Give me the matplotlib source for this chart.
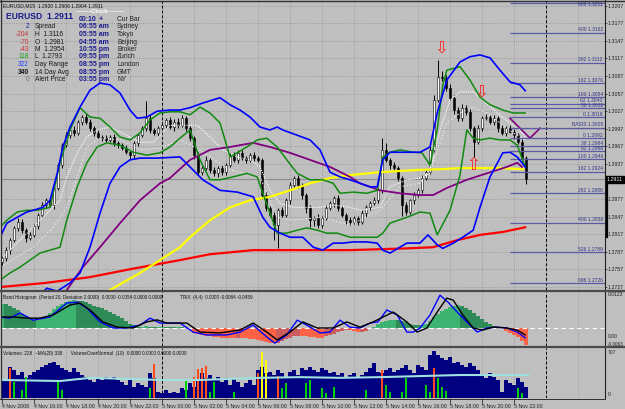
#!/usr/bin/env python3
"""EURUSD M15 MetaTrader-style screen (4-5 Nov 2008) redrawn with matplotlib."""

import numpy as np
import matplotlib
matplotlib.use("Agg")
import matplotlib.pyplot as plt
from matplotlib.lines import Line2D

W, H = 625, 409
BG = "#bfbfbf"
FONT = "Liberation Sans"
PIP = 0.0001
XLIM = (-0.25, 150.75)

# ---------------- price bars (15 min, from 4 Nov 14:00) ----------------
first_open = 1.2770
closes = [
    1.2776, 1.2790, 1.2807, 1.2828, 1.2838, 1.2824, 1.2810, 1.2816, 1.2831, 1.2850,
    1.2867, 1.2875, 1.2867, 1.2896, 1.2935, 1.2969, 1.2986, 1.2995, 1.2990, 1.3009,
    1.3017, 1.3009, 1.2998, 1.2990, 1.2983, 1.2981, 1.2978, 1.2983, 1.2973, 1.2969,
    1.2964, 1.2957, 1.2952, 1.2973, 1.2986, 1.2998, 1.3015, 1.2995, 1.2990, 1.2998,
    1.3003, 1.3012, 1.3000, 1.3009, 1.3003, 1.3015, 1.2998, 1.2981, 1.2952, 1.2923,
    1.2930, 1.2944, 1.2927, 1.2921, 1.2930, 1.2923, 1.2935, 1.2952, 1.2944, 1.2956,
    1.2947, 1.2944, 1.2952, 1.2947, 1.2944, 1.2884, 1.2862, 1.2850, 1.2833, 1.2858,
    1.2850, 1.2875, 1.2901, 1.2913, 1.2901, 1.2884, 1.2862, 1.2841, 1.2845, 1.2833,
    1.2845, 1.2862, 1.2870, 1.2879, 1.2862, 1.2850, 1.2841, 1.2838, 1.2845, 1.2838,
    1.2853, 1.2863, 1.2870, 1.2875, 1.2892, 1.2961, 1.2944, 1.2935, 1.2930, 1.2913,
    1.2867, 1.2855, 1.2875, 1.2884, 1.2892, 1.2913, 1.2923, 1.2961, 1.3046, 1.3085,
    1.3084, 1.3067, 1.3050, 1.3029, 1.3015, 1.3033, 1.3026, 1.2998, 1.2975, 1.2998,
    1.3015, 1.3017, 1.3009, 1.3015, 1.2998, 1.2990, 1.2998, 1.2992, 1.2986, 1.2975,
    1.2947, 1.2911,
]
wick_up = [
    4, 5, 3, 4, 6, 5, 4, 5, 3, 4,   5, 4, 6, 3, 4, 3, 5, 4, 6, 3,
    4, 5, 4, 3, 5, 4, 6, 4, 5, 4,   3, 5, 4, 3, 4, 4, 30, 5, 4, 3,
    6, 4, 5, 4, 6, 5, 4, 3, 4, 5,   4, 6, 3, 5, 4, 5, 3, 4, 6, 4,
    5, 4, 3, 5, 4, 3, 5, 4, 6, 4,   5, 4, 6, 4, 5, 3, 4, 5, 4, 6,
    4, 5, 4, 3, 5, 4, 4, 5, 3, 4,   5, 4, 3, 6, 4, 20, 12, 4, 5, 3,
    4, 5, 3, 6, 4, 5, 3, 6, 8, 29,  10, 5, 6, 4, 5, 6, 4, 5, 4, 6,
    4, 5, 4, 6, 3, 5, 4, 6, 4, 3,   4, 3,
]
wick_dn = [
    5, 4, 6, 3, 5, 4, 6, 3, 4, 5,   4, 5, 3, 6, 4, 5, 3, 4, 5, 4,
    5, 3, 4, 6, 4, 5, 3, 4, 6, 5,   4, 3, 6, 4, 5, 3, 4, 6, 4, 5,
    3, 5, 4, 6, 4, 3, 5, 4, 6, 5,   4, 3, 5, 4, 6, 4, 5, 3, 4, 5,
    4, 6, 3, 5, 4, 6, 5, 4, 25, 40, 5, 4, 6, 3, 5, 6, 8, 12, 10, 6,
    5, 4, 3, 6, 5, 4, 6, 5, 4, 5,   4, 6, 5, 3, 4, 5, 4, 6, 3, 5,
    18, 5, 4, 6, 3, 5, 4, 3, 5, 4,  6, 5, 4, 6, 5, 4, 6, 5, 26, 4,
    5, 3, 4, 5, 6, 4, 5, 3, 6, 4,   5, 8,
]

# ---------------- overlay lines on the price chart (bar index, price) ----------------
blue_up_x = [-0.5, 1.2, 3.8, 6.2, 7.8, 10.2, 12, 13.8, 15.2, 17, 19.5, 22, 24.5, 27, 29.5, 32,
             33.8, 36.2, 38.8, 42, 44.5, 47, 50.2, 54.5, 57, 59.5, 62, 64.5, 67, 68.8, 70.2,
             73.8, 77, 79.5, 82, 84.5, 87, 89.5, 92, 93.8, 95.2, 97, 101.2, 104.5, 107, 108.8,
             111.2, 114.5, 117, 119.5, 122, 124.5, 127, 129.5, 130.8]
blue_up = [1.2812, 1.2836, 1.2846, 1.2855, 1.2858, 1.2863, 1.2875, 1.2921, 1.2966, 1.3000,
           1.3034, 1.3063, 1.3075, 1.3072, 1.3058, 1.3029, 1.3015, 1.3017, 1.3027, 1.3029,
           1.3029, 1.3033, 1.3041, 1.3050, 1.3038, 1.3029, 1.3017, 1.3000, 1.2995, 1.3000,
           1.2995, 1.2986, 1.2978, 1.2961, 1.2923, 1.2915, 1.2910, 1.2904, 1.2898, 1.2898,
           1.2944, 1.2957, 1.2957, 1.2957, 1.2966, 1.3024, 1.3080, 1.3111, 1.3120, 1.3123,
           1.3118, 1.3097, 1.3077, 1.3072, 1.3062]
blue_dn_x = [-0.5, 8.2, 11.2, 13.8, 17, 19.5, 22, 24.5, 27, 29.5, 32, 34.5, 38.8, 44.5, 47,
             50.2, 54.5, 58.8, 62.8, 65.2, 67, 69.5, 72, 75.2, 77.8, 80.2, 82.8, 85.2, 87.8,
             91.2, 93.8, 95.2, 97, 101.2, 104.5, 106.5, 108.8, 110.2, 112.8, 115.2, 117.8,
             119.5, 122, 125.2, 127, 128.8, 130.8]
blue_dn = [1.2690, 1.2705, 1.2725, 1.2720, 1.2734, 1.2751, 1.2795, 1.2853, 1.2904, 1.2932,
           1.2944, 1.2947, 1.2947, 1.2949, 1.2932, 1.2910, 1.2892, 1.2889, 1.2881, 1.2846,
           1.2829, 1.2819, 1.2812, 1.2812, 1.2795, 1.2790, 1.2802, 1.2802, 1.2804, 1.2804,
           1.2802, 1.2790, 1.2785, 1.2802, 1.2802, 1.2816, 1.2799, 1.2793, 1.2802, 1.2812,
           1.2824, 1.2863, 1.2915, 1.2956, 1.2957, 1.2949, 1.2932]
green_up_x = [-0.5, 1.2, 3.8, 6.2, 8.8, 12, 14.5, 17, 19.5, 22, 24.5, 27, 29.5, 32, 34.5, 37,
              39.5, 42, 44.5, 47, 49.5, 52, 54.5, 57, 58.8, 61.2, 63.8, 66.2, 68.8, 71.2, 73.8,
              77, 80.2, 82.8, 84.5, 87.8, 91.2, 93.8, 95.2, 97, 99.5, 102.8, 105, 107, 108.8,
              110.2, 111.2, 114.5, 117, 119.5, 122, 125.2, 127.8, 130.8]
green_up = [1.2829, 1.2841, 1.2855, 1.2858, 1.2858, 1.2863, 1.2939, 1.2995, 1.3033, 1.3017,
            1.3015, 1.3000, 1.2983, 1.2978, 1.2990, 1.3012, 1.3024, 1.3026, 1.3026, 1.3021,
            1.3034, 1.3024, 1.3007, 1.2949, 1.2956, 1.2966, 1.2978, 1.2981, 1.2966, 1.2944,
            1.2921, 1.2910, 1.2910, 1.2904, 1.2887, 1.2889, 1.2887, 1.2892, 1.2949, 1.2957,
            1.2961, 1.2957, 1.2956, 1.2935, 1.2995, 1.3072, 1.3097, 1.3103, 1.3080, 1.3051,
            1.3038, 1.3029, 1.3024, 1.3024]
green_dn_x = [-0.5, 2, 4.5, 7, 9.5, 12, 14.5, 16.2, 18.8, 21.2, 23.8, 26.2, 29.5, 32.8, 36.2,
              39.5, 42, 44.5, 47, 49.5, 52, 54.5, 57.8, 61.2, 63.8, 65.2, 67, 68.8, 71.2, 73.8,
              76.2, 78.8, 81.2, 83.8, 87, 91.2, 93.8, 95.2, 97, 101.2, 104.5, 107, 108.8, 112,
              114.5, 116.2, 117.8, 119.5, 122, 124.5, 127, 128.8, 130.8]
green_dn = [1.2739, 1.2751, 1.2761, 1.2773, 1.2785, 1.2790, 1.2795, 1.2841, 1.2898, 1.2939,
            1.2966, 1.2973, 1.2969, 1.2957, 1.2952, 1.2956, 1.2966, 1.2981, 1.2995, 1.2944,
            1.2910, 1.2910, 1.2915, 1.2921, 1.2915, 1.2887, 1.2853, 1.2819, 1.2819, 1.2824,
            1.2828, 1.2824, 1.2819, 1.2819, 1.2812, 1.2812, 1.2812, 1.2819, 1.2836, 1.2846,
            1.2855, 1.2853, 1.2816, 1.2858, 1.2918, 1.2995, 1.2981, 1.2978, 1.2981, 1.2978,
            1.2978, 1.2969, 1.2932]
white_mid_x = [-0.5, 4.5, 9.5, 14.5, 16.2, 18.8, 21.2, 23.8, 27, 31.2, 34.5, 37.8, 42, 48.8,
               52, 55.2, 58.8, 62, 64.5, 67, 69.5, 72.8, 76.2, 79.5, 82.8, 87, 89.5, 94.5, 97,
               101.2, 104.5, 107, 109.5, 112, 114.5, 117.8, 120.2, 123.8, 127, 129.5, 130.8]
white_mid = [1.2773, 1.2807, 1.2841, 1.2875, 1.2915, 1.2956, 1.2983, 1.2995, 1.3000, 1.2986,
             1.2974, 1.2974, 1.3003, 1.3003, 1.2983, 1.2961, 1.2949, 1.2944, 1.2932, 1.2892,
             1.2870, 1.2863, 1.2863, 1.2863, 1.2867, 1.2863, 1.2858, 1.2863, 1.2898, 1.2910,
             1.2913, 1.2921, 1.2995, 1.3046, 1.3060, 1.3060, 1.3046, 1.3024, 1.3007, 1.2995,
             1.2983]
white_slow_x = [-0.5, 7.8, 12.8, 16.2, 18.8, 21.2, 24.5, 29.5, 34.5, 39.5, 44.5, 49.5, 57,
                64.5, 68.8, 72.8, 79.5, 87, 89.5, 94.5, 99.5, 104.5, 107.8, 111.2, 114.5, 117.8,
                121.2, 124.5, 127.8, 130.8]
white_slow = [1.2761, 1.2795, 1.2829, 1.2863, 1.2915, 1.2966, 1.2981, 1.2978, 1.2961, 1.2964,
              1.2978, 1.2961, 1.2927, 1.2915, 1.2846, 1.2841, 1.2846, 1.2833, 1.2841, 1.2858,
              1.2898, 1.2904, 1.2939, 1.3007, 1.3024, 1.3034, 1.3024, 1.3007, 1.2990, 1.2978]
purple_x = [14.5, 16.2, 20.2, 24.5, 29.5, 34.5, 39.5, 42, 47, 52, 57, 62.8, 67, 72, 77, 82, 87,
            89.5, 94.5, 99.5, 104.5, 107.8, 111.2, 116.2, 121.2, 126.2, 128.8, 130]
purple = [1.2705, 1.2722, 1.2761, 1.2795, 1.2836, 1.2875, 1.2904, 1.2913, 1.2944, 1.2961,
          1.2966, 1.2973, 1.2966, 1.2956, 1.2944, 1.2932, 1.2915, 1.2904, 1.2892, 1.2887,
          1.2884, 1.2884, 1.2896, 1.2910, 1.2921, 1.2932, 1.2939, 1.2932]
purple_v_x = [127, 132, 134.5]
purple_v = [1.3015, 1.2981, 1.2998]
yellow_x = [23.2, 27, 34.5, 39.5, 44.5, 47, 52, 57, 62, 67, 72, 77, 82, 87, 94.5, 99.5, 104.5,
            109.5, 114.5, 124.5, 130.2]
yellow = [1.2705, 1.2722, 1.2751, 1.2773, 1.2795, 1.2812, 1.2841, 1.2863, 1.2875, 1.2881,
          1.2892, 1.2904, 1.2913, 1.2918, 1.2923, 1.2925, 1.2927, 1.2928, 1.2930, 1.2930,
          1.2928]
red_x = [-0.5, 10.8, 22, 33.2, 44.5, 52, 62.8, 87, 101.2, 107.8, 113.8, 119.5, 125.2, 130.8]
red = [1.2727, 1.2734, 1.2744, 1.2759, 1.2773, 1.2783, 1.2790, 1.2790, 1.2793, 1.2795, 1.2807,
       1.2816, 1.2821, 1.2829]

fib_labels = ["600 1.3211", "400 1.3162", "262 1.3112", "162 1.3076", "100 1.3054",
              "62 1.3040", "50 1.3032", "0 1.3018", "BASIS 1.3005", "0 1.2992", "38 1.2984",
              "62 1.2968", "100 1.2946", "162 1.2924", "262 1.2888", "400 1.2838",
              "526 1.2789", "696 1.2726"]
fib_levels = [1.3212, 1.3161, 1.3110, 1.3075, 1.3051, 1.3040, 1.3033, 1.3017, 1.2999, 1.2981,
              1.2968, 1.2959, 1.2946, 1.2924, 1.2888, 1.2837, 1.2787, 1.2734]
price_ticks = [1.2727, 1.2757, 1.2787, 1.2817, 1.2847, 1.2877, 1.2937, 1.2967, 1.2997, 1.3027,
               1.3057, 1.3087, 1.3117, 1.3147, 1.3177, 1.3207]
last_price = 1.2911
arrows_down = [(109.8, 1.3135), (119.8, 1.3060)]
arrows_up = [(117.8, 1.2935)]

# ---------------- band histogram / TRIX ----------------
hist = [
    0.0082, 0.0080, 0.0076, 0.0068, 0.0060, 0.0048, 0.0042, 0.0034, 0.0028, 0.0028,
    0.0034, 0.0042, 0.0052, 0.0064, 0.0074, 0.0082, 0.0088, 0.0092, 0.0094, 0.0093,
    0.0091, 0.0088, 0.0082, 0.0076, 0.0072, 0.0068, 0.0062, 0.0055, 0.0048, 0.0040,
    0.0032, 0.0022, 0.0014, 0.0008, 0.0003, 0.0004, 0.0005, 0.0003, 0.0002, 0.0003,
    0.0004, 0.0003, 0.0002, 0.0001, 0.0002, 0.0001, 0.0000, -0.0002, -0.0018, -0.0022,
    -0.0026, -0.0028, -0.0030, -0.0031, -0.0032, -0.0034, -0.0035, -0.0036, -0.0036, -0.0035,
    -0.0036, -0.0037, -0.0038, -0.0040, -0.0043, -0.0046, -0.0050, -0.0053, -0.0054, -0.0052,
    -0.0046, -0.0040, -0.0034, -0.0030, -0.0028, -0.0028, -0.0030, -0.0031, -0.0032, -0.0034,
    -0.0034, -0.0030, -0.0025, -0.0020, -0.0015, -0.0010, -0.0008, -0.0009, -0.0012, -0.0015,
    -0.0014, -0.0010, -0.0005, 0.0002, 0.0012, 0.0018, 0.0022, 0.0025, 0.0027, 0.0026,
    0.0024, 0.0020, 0.0014, 0.0010, 0.0009, 0.0010, 0.0014, 0.0024, 0.0036, 0.0048,
    0.0058, 0.0066, 0.0072, 0.0076, 0.0077, 0.0074, 0.0068, 0.0060, 0.0050, 0.0040,
    0.0030, 0.0020, 0.0012, 0.0006, 0.0002, -0.0002, -0.0012, -0.0018, -0.0024, -0.0032,
    -0.0045, -0.0058,
]
trix_x = [-0.5, 2, 4.5, 7.8, 12, 16.2, 18.8, 21.2, 24.5, 27.8, 31.2, 34.5, 37, 39.5, 44.5, 47.8,
          51.2, 56.2, 59.5, 62.8, 66.2, 68.2, 71.2, 73.8, 76.2, 79.5, 82, 84.5, 87, 89.5, 92,
          94, 96.2, 98.8, 101.2, 102.8, 104.5, 107, 109.5, 111.5, 113.8, 116.2, 118.8, 121.2,
          123.8, 126.2, 128.8, 130.8]
trix = [0.0037, 0.0033, 0.0051, 0.0026, 0.0037, 0.0085, 0.0088, 0.0068, 0.0020, -0.0001,
        -0.0001, 0.0009, 0.0033, 0.0016, 0.0016, -0.0015, -0.0025, -0.0025, -0.0015, 0.0009,
        -0.0032, -0.0053, -0.0025, 0.0026, 0.0009, -0.0018, -0.0015, 0.0026, 0.0002, -0.0001,
        0.0016, 0.0020, 0.0061, 0.0044, -0.0015, -0.0015, -0.0001, 0.0044, 0.0112, 0.0088,
        0.0054, 0.0020, -0.0015, -0.0001, 0.0002, -0.0001, -0.0015, -0.0035]
signal_x = [-0.5, 2.8, 6.2, 9.5, 12.8, 17, 19.5, 22, 25.2, 28.8, 32.8, 36.2, 38.8, 41.2, 46.2,
            49.5, 54.5, 59.5, 62.8, 66.2, 68.8, 72, 75.2, 78.8, 82.8, 86.2, 89.5, 92.8, 97.8,
            101.2, 103.8, 106.2, 108.8, 111.2, 112.8, 115.2, 117.8, 120.2, 122.8, 126.2, 128.8,
            130.8]
signal = [0.0037, 0.0037, 0.0033, 0.0033, 0.0044, 0.0078, 0.0085, 0.0061, 0.0020, 0.0002,
          -0.0001, 0.0020, 0.0027, 0.0016, 0.0016, -0.0015, -0.0018, -0.0008, 0.0016, -0.0015,
          -0.0042, -0.0015, 0.0020, -0.0001, -0.0001, 0.0020, 0.0002, 0.0020, 0.0054, 0.0020,
          -0.0015, -0.0001, 0.0054, 0.0102, 0.0095, 0.0044, -0.0001, -0.0008, 0.0002, -0.0001,
          -0.0008, -0.0025]

# ---------------- volumes ----------------
volumes = [
    255, 250, 440, 395, 325, 370, 285, 325, 370, 395,
    440, 465, 495, 510, 465, 425, 395, 370, 425, 370,
    325, 295, 255, 225, 285, 255, 295, 285, 295, 255,
    225, 185, 255, 155, 210, 185, 155, 355, 285, 85,
    70, 115, 70, 85, 70, 140, 115, 210, 155, 255,
    355, 285, 325, 255, 295, 225, 255, 185, 285, 225,
    155, 210, 255, 185, 395, 440, 355, 370, 325, 395,
    355, 295, 370, 395, 325, 425, 395, 440, 395, 370,
    425, 395, 355, 370, 325, 355, 295, 325, 355, 295,
    325, 370, 425, 495, 370, 355, 395, 425, 370, 395,
    425, 465, 395, 355, 465, 440, 395, 610, 665, 610,
    565, 540, 580, 495, 510, 465, 440, 495, 450, 395,
    325, 285, 355, 295, 255, 85, 255, 210, 185, 285,
    225, 155,
]
over_idx = [2, 3, 5, 6, 14, 15, 37, 38, 46, 48, 49, 50, 51, 52, 53, 58, 64, 65, 66, 69,
            70, 71, 76, 77, 80, 81, 83, 91, 95, 96, 97, 100, 101, 106, 107, 108, 109, 110, 111,
            129, 130]
over_val = [425, 225, 115, 295, 225, 115, 140, 480, 255, 295, 410, 425, 455, 85, 225, 85, 355,
            650, 535, 310, 140, 210, 210, 255, 140, 70, 155, 115, 395, 185, 85, 85, 285, 185,
            85, 425, 285, 155, 100, 140, 70]
over_kind = ["r", "g", "g", "g", "g", "g", "g", "r", "g", "r", "r", "r", "r", "g", "g", "g",
             "r", "y", "y", "r", "g", "g", "g", "g", "g", "g", "g", "g", "r", "g", "g", "g",
             "g", "g", "g", "r", "g", "g", "g", "g", "g"]
vol_ma_x = [-0.25, 14.5, 22, 32, 39.5, 49.5, 64.5, 74.5, 84.5, 94.5, 104.5, 114.5, 119.5, 131.5]
vol_ma = [255, 240, 285, 270, 255, 255, 285, 295, 285, 295, 310, 325, 325, 325]

time_labels = ["4 Nov 2008", "4 Nov 16:00", "4 Nov 18:00", "4 Nov 20:00", "4 Nov 22:00",
               "5 Nov 00:00", "5 Nov 02:00", "5 Nov 04:00", "5 Nov 06:00", "5 Nov 08:00",
               "5 Nov 10:00", "5 Nov 12:00", "5 Nov 14:00", "5 Nov 16:00", "5 Nov 18:00",
               "5 Nov 20:00", "5 Nov 22:00"]
day_breaks = [40, 136]

# ---------------- info block ----------------
info_nums = ["2", "-204", "-70", "-43", "118", "322", "340", "0"]
info_num_colors = ["#1a1a99", "#cc3333", "#cc3333", "#cc3333", "#1f9f1f", "#2244ff",
                   "#111111", "#707070"]
info_labels = ["Spread", "H  1.3116", "O  1.2981", "M  1.2954", "L  1.2793", "Day Range",
               "14 Day Avg", "Alert Price"]
clock_times = ["00:10", "06:55 am", "05:55 am", "04:55 am", "10:55 pm", "09:55 pm",
               "08:55 pm", "08:55 pm", "03:55 pm"]
clock_cities = ["Cur Bar", "Sydney", "Tokyo", "Beijing", "Broker", "Zurich", "London",
                "GMT", "NY"]


def fx(x):
    return x / W


def fy(y):
    return 1 - y / H


def panel(fig, top, bottom):
    ax = fig.add_axes([fx(1), fy(bottom), (605 - 1) / W, (bottom - top) / H])
    ax.set_facecolor(BG)
    ax.set_xlim(XLIM)
    for s in ax.spines.values():
        s.set_visible(False)
    ax.tick_params(left=False, labelleft=False, bottom=False, labelbottom=False)
    for g in range(0, 151, 8):
        ax.axvline(g, color="#939393", lw=0.6, ls=(0, (1, 1.5)), zorder=0)
    for d in day_breaks:
        ax.axvline(d, color="black", lw=0.7, ls=(0, (3, 2)), zorder=1)
    return ax


def ftext(fig, x, y, s, **kw):
    kw.setdefault("family", FONT)
    kw.setdefault("va", "center")
    fig.text(fx(x), fy(y), s, **kw)


def fline(fig, xs, ys, **kw):
    fig.add_artist(Line2D([fx(v) for v in xs], [fy(v) for v in ys],
                          transform=fig.transFigure, **kw))


def main():
    fig = plt.figure(figsize=(W / 100, H / 100), dpi=100, facecolor=BG)

    # ---- price panel ----
    ax = panel(fig, 1, 290)
    ax.set_ylim(1.2722, 1.3215)
    for p in price_ticks:
        ax.axhline(p, color="#939393", lw=0.6, ls=(0, (1, 1.5)), zorder=0)
    ax.axhline(last_price, color="#8c8c8c", lw=0.8, zorder=1)

    c = np.array(closes)
    o = np.r_[first_open, c[:-1]]
    top = np.maximum(o, c)
    bot = np.minimum(o, c)
    hi = top + np.array(wick_up) * PIP
    lo = bot - np.array(wick_dn) * PIP
    idx = np.arange(len(c))
    ax.vlines(idx, lo, hi, color="black", lw=0.7, zorder=3)
    body = np.maximum(top - bot, 0.00005)
    bull = c >= o
    ax.bar(idx[bull], body[bull], bottom=bot[bull], width=0.62, color="white",
           edgecolor="black", lw=0.4, zorder=4)
    ax.bar(idx[~bull], body[~bull], bottom=bot[~bull], width=0.62, color="black",
           edgecolor="black", lw=0.4, zorder=4)

    ax.plot(white_slow_x, white_slow, color="#e6e6e6", lw=0.7, ls=(0, (2, 2)), zorder=5)
    ax.plot(white_mid_x, white_mid, color="white", lw=0.8, ls=(0, (1, 1)), zorder=5)
    ax.plot(red_x, red, color="#ff0000", lw=1.6, zorder=5)
    ax.plot(yellow_x, yellow, color="#ffff00", lw=1.6, zorder=5)
    ax.plot(purple_x, purple, color="#800080", lw=1.3, zorder=5)
    ax.plot(purple_v_x, purple_v, color="#800080", lw=1.2, zorder=5)
    ax.plot(green_up_x, green_up, color="#108a10", lw=1.1, zorder=6)
    ax.plot(green_dn_x, green_dn, color="#108a10", lw=1.1, zorder=6)
    ax.plot(blue_up_x, blue_up, color="#0000ff", lw=1.2, zorder=6)
    ax.plot(blue_dn_x, blue_dn, color="#0000ff", lw=1.2, zorder=6)

    ax.hlines(fib_levels, 127, XLIM[1], color="#5a5aa6", lw=0.9, zorder=5)
    for lab, lev in zip(fib_labels, fib_levels):
        # the topmost level sits on the frame, so its label hangs just below it
        va = "top" if lev > 1.3200 else "bottom"
        yy = 1.3214 if lev > 1.3200 else lev + 0.00003
        ax.text(150.2, yy, lab, ha="right", va=va, fontsize=3.6,
                color="#34348a", family=FONT, zorder=6)

    for xa, ya in arrows_down:
        ax.text(xa, ya, "\u21e9", color="#ff2020", fontsize=12, ha="center", va="center",
                family="DejaVu Sans", zorder=7)
    for xa, ya in arrows_up:
        ax.text(xa, ya, "\u21e7", color="#ff2020", fontsize=12, ha="center", va="center",
                family="DejaVu Sans", zorder=7)

    ax.yaxis.tick_right()
    ax.set_yticks(price_ticks)
    ax.set_yticklabels([f"{p:.4f}" for p in price_ticks], family=FONT)
    ax.tick_params(axis="y", right=True, labelright=True, length=1.5, width=0.5, pad=0.6,
                   labelsize=3.8, labelcolor="#202020", color="#202020")
    ax.annotate(f"{last_price:.4f}", xy=(1.0, last_price), xycoords=("axes fraction", "data"),
                xytext=(1.2, 0), textcoords="offset points", ha="left", va="center",
                fontsize=3.8, color="white", family=FONT, annotation_clip=False, zorder=10,
                bbox=dict(boxstyle="square,pad=0.2", fc="black", ec="black"))

    # ---- band histogram / TRIX panel ----
    ih = panel(fig, 292, 346)
    ih.set_ylim(-0.0063, 0.0123)
    hv = np.array(hist)
    prev = np.r_[hv[0], hv[:-1]]
    cols = []
    for v, pv in zip(hv, prev):
        if v >= 0:
            cols.append("#3cb371" if v >= pv else "#2e8b57")
        else:
            cols.append("#ff6347" if v <= pv else "#cd5c5c")
    ih.bar(np.arange(len(hv)), hv, width=0.78, color=cols, zorder=2)
    ih.axhline(0, color="white", lw=0.8, ls=(0, (4, 3)), zorder=3)
    ih.plot(trix_x, trix, color="#0000ff", lw=1.0, zorder=4)
    ih.plot(signal_x, signal, color="black", lw=1.0, zorder=4)

    # ---- volume panel ----
    vx = panel(fig, 348, 398)
    vx.set_ylim(0, 707)
    vx.bar(np.arange(len(volumes)), volumes, width=0.78, color="#000080", zorder=2)
    kind_col = {"g": "#00d000", "r": "#ff4a1a", "y": "#ffff00"}
    vx.bar(np.array(over_idx) + 0.05, over_val, width=0.38,
           color=[kind_col[k] for k in over_kind], zorder=3)
    vx.plot(vol_ma_x, vol_ma, color="#9fe0e0", lw=1.5, zorder=4)
    vx.set_xticks(range(0, 129, 8))
    vx.set_xticklabels(time_labels, family=FONT)
    vx.tick_params(axis="x", bottom=True, labelbottom=True, length=4, width=0.6, pad=0.3,
                   labelsize=3.8, labelcolor="#202020", color="#303030", direction="out")
    for lbl in vx.get_xticklabels():
        lbl.set_ha("left")

    # ---- frames & separators ----
    fline(fig, [0, W], [0.5, 0.5], color="#303030", lw=1.0)
    fline(fig, [0.5, 0.5], [0, 398], color="#303030", lw=0.8)
    fline(fig, [605, 605], [0, 398], color="#202020", lw=0.8)
    fline(fig, [0, W], [291, 291], color="#4a4a4a", lw=1.6)
    fline(fig, [0, W], [347, 347], color="#4a4a4a", lw=1.6)
    fline(fig, [0, 605], [398.5, 398.5], color="#303030", lw=0.7)
    fline(fig, [606.5, 606.5], [183, 237], color="black", lw=1.6)

    # ---- panel texts ----
    ftext(fig, 3, 5.5, "EURUSD,M15  1.2920 1.2906 1.2904 1.2911", fontsize=3.6, color="#101010")
    ftext(fig, 3, 297, "Band Histogram  (Period 20, Deviation 2.0000)  0.0000 -0.0054 0.0000 0.0000",
          fontsize=3.3, color="#101010")
    ftext(fig, 180, 297, "TRIX  (4,4)  0.0000 -0.0084 -0.0459", fontsize=3.3, color="#101010")
    ftext(fig, 3, 353, "Volumes: 228  ~MA(20) 338      VolumeOverNormal  (10)  "
          "0.0000 0.0000 0.0000 0.0000", fontsize=3.4, color="#101010")
    ftext(fig, 607.5, 295, "0.0123", fontsize=3.6, color="#202020")
    ftext(fig, 607.5, 336, "0.00", fontsize=3.6, color="#202020")
    ftext(fig, 607.5, 344, "-0.0063", fontsize=3.4, color="#202020")
    ftext(fig, 607.5, 352, "707", fontsize=3.6, color="#202020")
    ftext(fig, 607.5, 395, "0", fontsize=3.6, color="#202020")

    # ---- info block ----
    ftext(fig, 6, 16.5, "EURUSD  1.2911", fontsize=6.2, weight="bold", color="#1a1a8c")
    ftext(fig, 100, 11.5, "--------Clock--------", fontsize=4.4, weight="bold", color="white",
          ha="center")
    row_y = [19.5, 27, 34.5, 42, 49.5, 57, 64.5, 72, 79.5]
    for k, (tm, city) in enumerate(zip(clock_times, clock_cities)):
        ftext(fig, 79, row_y[k], tm, fontsize=5.0, weight="bold", color="#1b1b8f")
        ftext(fig, 117, row_y[k], city, fontsize=4.8, color="#202020")
    ftext(fig, 101, row_y[0], "+", fontsize=5.2, weight="bold", color="#1b1b8f", ha="center")
    for k, (num, col, lab) in enumerate(zip(info_nums, info_num_colors, info_labels)):
        ftext(fig, 29, row_y[k + 1], num, fontsize=4.8, color=col, ha="right",
              weight="bold" if num == "340" else "normal")
        ftext(fig, 35, row_y[k + 1], lab, fontsize=4.8, color="#1a1a1a")

    fig.savefig("out.png", dpi=100, facecolor=BG)
    plt.close(fig)


if __name__ == "__main__":
    main()
